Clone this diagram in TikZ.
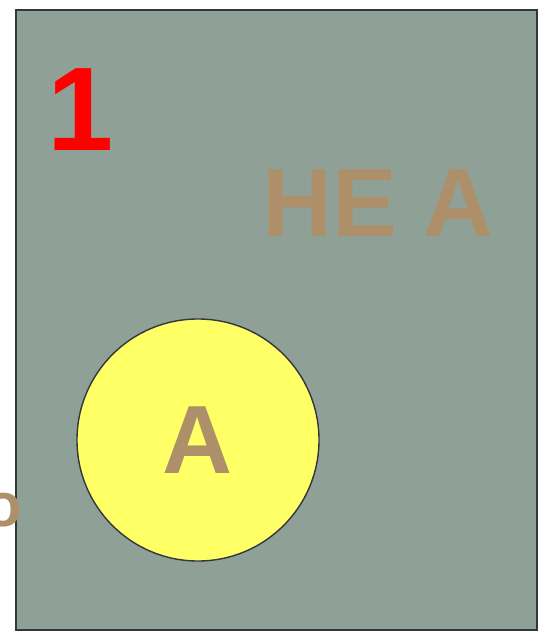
\documentclass[tikz,border=0pt]{standalone}
\usepackage{fontspec}
\setmainfont{Liberation Sans}
\begin{document}
\begin{tikzpicture}[x=1pt,y=-1pt,
  bigtxt/.style={inner sep=0pt,font=\bfseries\fontsize{97}{97}\selectfont},
  tan/.style={text=tanc}]
\definecolor{bgc}{HTML}{8FA196}
\definecolor{tanc}{HTML}{AD9069}
\definecolor{yelc}{HTML}{FFFF66}
\definecolor{edgec}{HTML}{33363D}
\useasboundingbox (0,0) rectangle (538,631);
\draw[fill=bgc,draw=edgec,line width=1.6pt] (16,10) rectangle (537,630);
\node[bigtxt,text=red,font=\bfseries\fontsize{119}{119}\selectfont] (one) at (81,109.5) {1};
\node[bigtxt,tan] (hea) at (378,203) {HE A};
\node[circle,minimum size=242pt,inner sep=0pt,fill=yelc,draw=edgec,line width=1.4pt] (circ) at (198,440) {};
\node[bigtxt,tan] (a) at (197.5,440.5) {A};
\node[bigtxt,tan,font=\bfseries\fontsize{62}{62}\selectfont] (o) at (3,510) {o};
\end{tikzpicture}
\end{document}
